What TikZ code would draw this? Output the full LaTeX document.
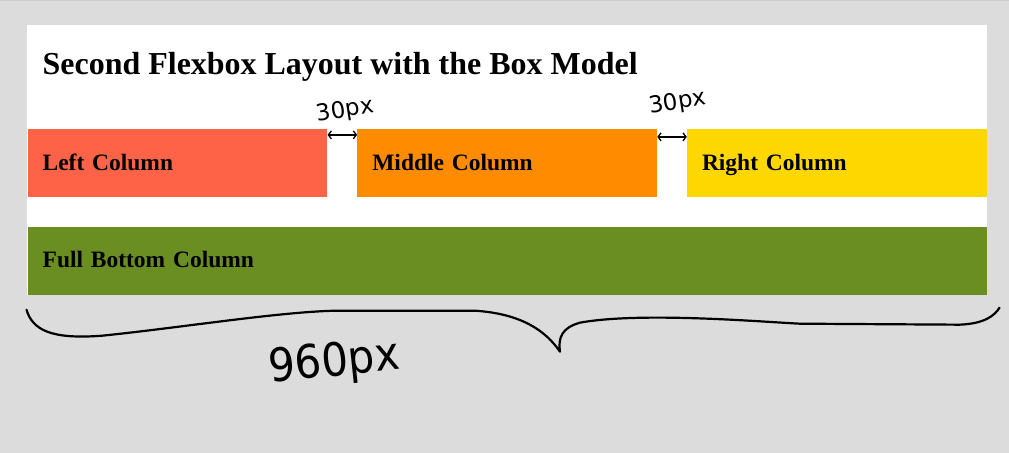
\documentclass[tikz,border=0pt]{standalone}
\usepackage{fontspec}
\setmainfont{Liberation Serif}
\newfontfamily\handfont{DejaVu Sans}
\usepackage{tikz}
\usetikzlibrary{arrows,arrows.meta,calc,positioning}
\definecolor{pagegray}{HTML}{DCDCDC}
\definecolor{tomatocol}{HTML}{FF6347}
\definecolor{orangecol}{HTML}{FF8C00}
\definecolor{goldcol}{HTML}{FFD700}
\definecolor{olivecol}{HTML}{6B8E23}
\newcommand*{\colW}{300}
\newcommand*{\colH}{68}
\tikzset{
	column/.style={fill=#1,draw=none,anchor=north west,minimum height=\colH pt,
		text width=270pt,inner xsep=15pt,inner ysep=0pt,align=left,
		text height=18pt,text depth=4pt,
		font=\bfseries\fontsize{23.5}{26}\selectfont},
	handarrow/.style={{Straight Barb[length=3pt,width=8pt]}-{Straight Barb[length=3pt,width=8pt]},line width=1.3pt},
	handtext/.style={font=\handfont\fontsize{23}{25}\selectfont,inner sep=0pt}
}

\begin{document}
\begin{tikzpicture}[x=1pt,y=-1pt]

	\fill[pagegray] (0,0) rectangle (1009,453);
	\draw[pagegray!93!black,line width=1pt] (0,0.5) -- (1009,0.5);
	\fill[white] (27,25) rectangle (987,295);

	\node[anchor=base west,inner sep=0pt,font=\bfseries\fontsize{32}{36}\selectfont] (title) at (42,75) {Second Flexbox Layout with the Box Model};

	\node[column=tomatocol] (leftcol) at (27,129) {Left Column};
	\node[column=orangecol] (midcol) at (357,129) {Middle Column};
	\node[column=goldcol] (rightcol) at (687,129) {Right Column};
	\node[column=olivecol,text width=930pt] (bottomcol) at (27,227) {Full Bottom Column};

	% gaps of 30px
	\draw[handarrow] ([yshift=-6pt]leftcol.north east) -- ([yshift=-6pt]midcol.north west);
	\draw[handarrow] ([yshift=-8pt]midcol.north east) -- ([yshift=-8pt]rightcol.north west);
	\node[handtext,rotate=9] (gapone) at (345,111) {30px};
	\node[handtext,rotate=9] (gaptwo) at (678,103) {30px};

	% hand drawn brace under the page
	\draw[line width=2.2pt,line cap=round,line join=round]
		(26,310) .. controls (32,330) and (50,340) .. (102,336)
		.. controls (180,328) and (280,312) .. (336,311)
		-- (475,311)
		.. controls (520,314) and (545,330) .. (560,352)
		.. controls (558,338) and (562,328) .. (580,323)
		.. controls (640,312) and (760,322) .. (800,324)
		-- (960,325)
		.. controls (985,324) and (995,316) .. (1000,308);
	\node[handtext,font=\handfont\fontsize{40}{42}\selectfont,rotate=6,yscale=1.15,xscale=1.05] (total) at (334,364) {960px};

\end{tikzpicture}
\end{document}
